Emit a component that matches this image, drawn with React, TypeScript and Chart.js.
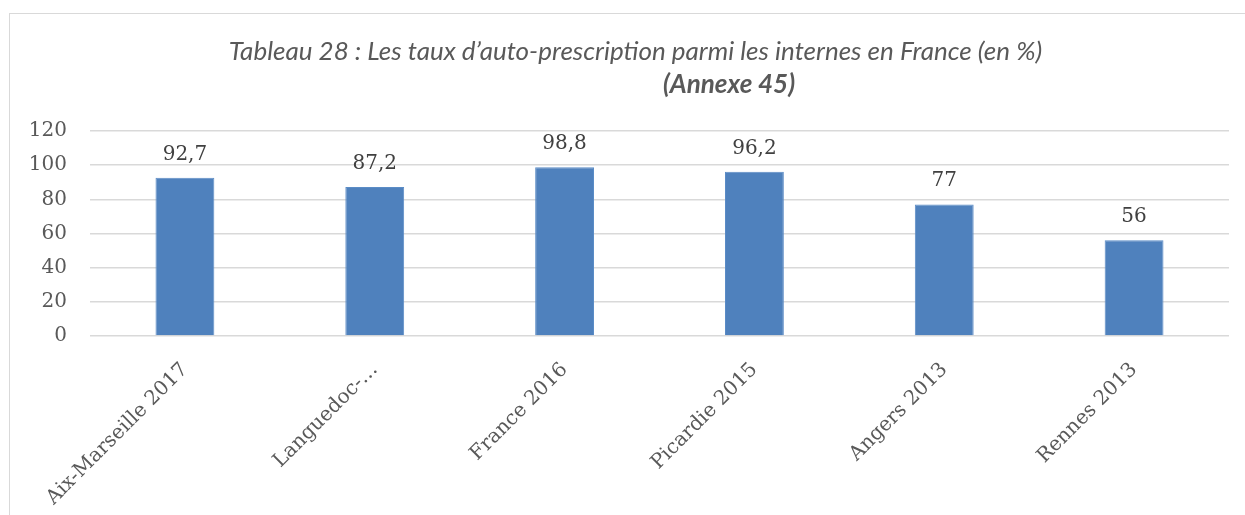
import React, { useEffect, useRef } from 'react';
import { Chart, registerables } from 'chart.js';

Chart.register(...registerables);

const categories = ['Aix-Marseille 2017', 'Languedoc-…', 'France 2016', 'Picardie 2015', 'Angers 2013', 'Rennes 2013'];
const values = [92.7, 87.2, 98.8, 96.2, 77, 56];
const yTicks = [0, 20, 40, 60, 80, 100, 120];
const titleLine1 = 'Tableau 28 : Les taux d’auto-prescription parmi les internes en France (en %)';
const titleLine2 = '(Annexe 45)';

const SERIF = '"DejaVu Serif", serif';
const SANS = 'Lato, "Open Sans", sans-serif';

const titlePlugin = {
  id: 'customTitle',
  afterDraw(chart: any) {
    const ctx = chart.ctx;
    ctx.save();
    ctx.fillStyle = '#595959';
    ctx.textAlign = 'center';
    ctx.textBaseline = 'middle';
    ctx.font = `italic 26px ${SANS}`;
    ctx.fillText(titleLine1, 635.5, 52);
    ctx.font = `italic bold 26px ${SANS}`;
    ctx.fillText(titleLine2, 729, 85);
    ctx.restore();
  },
};

const valueLabelPlugin = {
  id: 'valueLabels',
  afterDatasetsDraw(chart: any) {
    const ctx = chart.ctx;
    const meta = chart.getDatasetMeta(0);
    ctx.save();
    ctx.fillStyle = '#404040';
    ctx.textAlign = 'center';
    ctx.textBaseline = 'alphabetic';
    ctx.font = `20px ${SERIF}`;
    meta.data.forEach((bar: any, i: number) => {
      const label = String(values[i]).replace('.', ',');
      ctx.fillText(label, bar.x, bar.y - 18);
    });
    ctx.restore();
  },
};

export default function App() {
  const canvasRef = useRef<HTMLCanvasElement | null>(null);

  useEffect(() => {
    document.body.style.overflow = 'hidden';
    const canvas = canvasRef.current;
    if (!canvas) return;
    const chart = new Chart(canvas, {
      type: 'bar',
      data: {
        labels: categories,
        datasets: [
          {
            data: values,
            backgroundColor: '#4F81BD',
            borderColor: '#5B8CC6',
            borderWidth: 1,
            barPercentage: 0.31,
            categoryPercentage: 1,
          },
        ],
      },
      options: {
        animation: false,
        responsive: false,
        devicePixelRatio: 1,
        layout: { padding: { top: 131, right: 16, left: 29, bottom: 0 } },
        plugins: {
          legend: { display: false },
          title: { display: false },
          tooltip: { enabled: false },
        },
        scales: {
          x: {
            grid: { display: false, drawTicks: false },
            border: { display: false },
            ticks: {
              color: '#595959',
              font: { family: SERIF, size: 20 },
              minRotation: 45,
              maxRotation: 45,
              padding: 22,
              autoSkip: false,
            },
            afterFit(scale: any) {
              scale.height = 179;
            },
          },
          y: {
            min: yTicks[0],
            max: yTicks[yTicks.length - 1],
            grid: { color: '#D9D9D9', lineWidth: 1.5, drawTicks: false },
            border: { display: false },
            ticks: {
              stepSize: yTicks[1] - yTicks[0],
              color: '#595959',
              font: { family: SERIF, size: 20 },
              padding: 23,
            },
            afterFit(scale: any) {
              scale.width = 61;
            },
          },
        },
      },
      plugins: [titlePlugin, valueLabelPlugin],
    });
    return () => chart.destroy();
  }, []);

  return (
    <div style={{ position: 'fixed', left: 0, top: 0, width: 1245, height: 515, overflow: 'hidden', background: '#fff' }}>
      <div
        style={{
          position: 'absolute',
          left: 9,
          top: 13,
          width: 1300,
          height: 600,
          border: '1px solid #D9D9D9',
          boxSizing: 'border-box',
        }}
      />
      <canvas ref={canvasRef} width={1245} height={515} style={{ position: 'absolute', left: 0, top: 0 }} />
    </div>
  );
}
